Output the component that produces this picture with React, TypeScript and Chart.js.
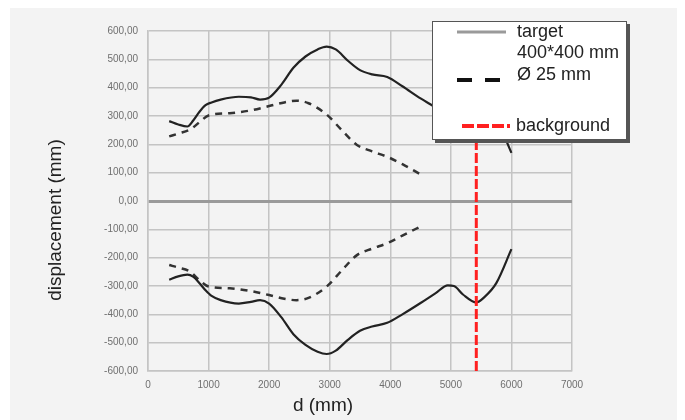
import React, { useEffect, useRef } from "react";
import { Chart, registerables } from "chart.js";

Chart.register(...registerables);

// ---- data ----
const targetX = [350, 500, 650, 750, 850, 950, 1050, 1200, 1500, 1700, 1850, 2000, 2200, 2400, 2600, 2800, 2950, 3100, 3300, 3500, 3700, 3950, 4200, 4500, 4750, 4950, 5050, 5200, 5420, 5550, 5750, 6000];
const targetUpper = [282, 270, 263, 285, 315, 338, 348, 358, 368, 366, 358, 365, 410, 470, 510, 535, 545, 535, 495, 462, 447, 438, 405, 362, 330, 300, 302, 330, 358, 340, 290, 170];
const targetLower = [-278, -266, -260, -268, -290, -315, -335, -350, -362, -356, -350, -362, -410, -470, -508, -532, -540, -528, -490, -458, -443, -430, -400, -360, -325, -298, -300, -330, -358, -340, -290, -170];

const rodX = [350, 500, 700, 850, 1000, 1350, 1700, 2000, 2250, 2450, 2650, 2950, 3200, 3450, 3700, 3950, 4200, 4500];
const rodUpper = [228, 238, 253, 278, 302, 310, 320, 335, 348, 354, 345, 305, 250, 198, 175, 156, 130, 94];
const rodLower = [-226, -235, -250, -280, -302, -308, -318, -332, -345, -350, -342, -302, -245, -191, -168, -149, -122, -90];

const backgroundX = [5420, 5420];
const backgroundY = [-600, 600];

const xTicks = [0, 1000, 2000, 3000, 4000, 5000, 6000, 7000];
const yTicks = [-600, -500, -400, -300, -200, -100, 0, 100, 200, 300, 400, 500, 600];

const legendLabels = ["target", "400*400 mm", "Ø 25 mm", "background"];
const xTitle = "d (mm)";
const yTitle = "displacement (mm)";

const pts = (xs: number[], ys: number[]) => xs.map((x, i) => ({ x, y: ys[i] }));

const overlayPlugin = {
  id: "overlay",
  afterDraw(chart: any) {
    const ctx = chart.ctx as CanvasRenderingContext2D;
    const a = chart.chartArea;
    ctx.save();
    // axis titles
    ctx.fillStyle = "#222";
    ctx.font = '19px "Liberation Sans", Arial, sans-serif';
    ctx.textAlign = "center";
    ctx.textBaseline = "middle";
    ctx.fillText(xTitle, a.left + 175, a.bottom + 35);
    ctx.save();
    ctx.translate(a.left - 92, a.top + 189);
    ctx.rotate(-Math.PI / 2);
    ctx.fillText(yTitle, 0, 0);
    ctx.restore();

    // legend box
    const bx = a.left + 284;
    const by = a.top - 10;
    const bw = 195;
    const bh = 119;
    ctx.fillStyle = "#555";
    ctx.fillRect(bx + 3, by + 3, bw, bh);
    ctx.fillStyle = "#fff";
    ctx.fillRect(bx, by, bw, bh);
    ctx.strokeStyle = "#555";
    ctx.lineWidth = 1;
    ctx.strokeRect(bx + 0.5, by + 0.5, bw - 1, bh - 1);

    // samples
    ctx.lineCap = "butt";
    ctx.strokeStyle = "#9a9a9a";
    ctx.lineWidth = 3;
    ctx.setLineDash([]);
    ctx.beginPath();
    ctx.moveTo(bx + 25, by + 11);
    ctx.lineTo(bx + 74, by + 11);
    ctx.stroke();

    ctx.strokeStyle = "#111";
    ctx.lineWidth = 4;
    ctx.setLineDash([15, 13]);
    ctx.beginPath();
    ctx.moveTo(bx + 25, by + 59);
    ctx.lineTo(bx + 74, by + 59);
    ctx.stroke();

    ctx.strokeStyle = "#ff2020";
    ctx.lineWidth = 4;
    ctx.setLineDash([12, 3]);
    ctx.beginPath();
    ctx.moveTo(bx + 30, by + 105);
    ctx.lineTo(bx + 78, by + 105);
    ctx.stroke();
    ctx.setLineDash([]);

    ctx.fillStyle = "#222";
    ctx.font = '18px "Liberation Sans", Arial, sans-serif';
    ctx.textAlign = "left";
    ctx.textBaseline = "middle";
    ctx.fillText(legendLabels[0], bx + 85, by + 11);
    ctx.fillText(legendLabels[1], bx + 85, by + 32);
    ctx.fillText(legendLabels[2], bx + 85, by + 54);
    ctx.fillText(legendLabels[3], bx + 84, by + 105);
    ctx.restore();
  },
};

export default function App() {
  const ref = useRef<HTMLCanvasElement | null>(null);

  useEffect(() => {
    if (!ref.current) return;
    const solid = { borderColor: "#222", borderWidth: 2.2, pointRadius: 0, cubicInterpolationMode: "monotone" as const, fill: false, order: 1 };
    const dashed = { borderColor: "#333", borderWidth: 2.5, borderDash: [7, 6], pointRadius: 0, cubicInterpolationMode: "monotone" as const, fill: false, order: 1 };
    const chart = new Chart(ref.current, {
      type: "line",
      data: {
        datasets: [
          { label: "background", data: pts(backgroundX, backgroundY), borderColor: "#ff2020", borderWidth: 3, borderDash: [10, 3], pointRadius: 0, order: 0 },
          { label: "target 400*400 mm", data: pts(targetX, targetUpper), ...solid },
          { label: "target 400*400 mm (lower)", data: pts(targetX, targetLower), ...solid },
          { label: "Ø 25 mm", data: pts(rodX, rodUpper), ...dashed },
          { label: "Ø 25 mm (lower)", data: pts(rodX, rodLower), ...dashed },
        ],
      },
      options: {
        animation: false,
        responsive: true,
        maintainAspectRatio: false,
        layout: { padding: { left: 68, top: 27, right: 106, bottom: 29 } },
        plugins: { legend: { display: false }, tooltip: { enabled: false } },
        scales: {
          x: {
            type: "linear",
            min: 0,
            max: 7000,
            afterBuildTicks: (s: any) => { s.ticks = xTicks.map((v) => ({ value: v })); },
            afterFit: (s: any) => { s.height = 20; },
            grid: { color: "#c4c4c4", lineWidth: 1.5, drawTicks: false },
            border: { color: "#c4c4c4", width: 1.5 },
            ticks: { color: "#6f6f6f", font: { size: 10, family: '"Liberation Sans", Arial, sans-serif' }, padding: 8, maxRotation: 0, callback: (v: any) => String(v) },
          },
          y: {
            type: "linear",
            min: -600,
            max: 600,
            afterBuildTicks: (s: any) => { s.ticks = yTicks.map((v) => ({ value: v })); },
            afterFit: (s: any) => { s.width = 70; },
            grid: {
              color: (c: any) => (c.tick && c.tick.value === 0 ? "#9a9a9a" : "#c4c4c4"),
              lineWidth: (c: any) => (c.tick && c.tick.value === 0 ? 3 : 1.5),
              drawTicks: false,
            },
            border: { color: "#c4c4c4", width: 1.5 },
            ticks: {
              color: "#6f6f6f",
              font: { size: 10, family: '"Liberation Sans", Arial, sans-serif' },
              padding: 10,
              callback: (v: any) => Number(v).toFixed(2).replace(".", ","),
            },
          },
        },
      },
      plugins: [overlayPlugin],
    });
    return () => chart.destroy();
  }, []);

  return (
    <div style={{ position: "relative", width: 668, height: 416, marginLeft: 2, marginTop: -4, background: "#f3f3f3" }}>
      <canvas ref={ref} />
    </div>
  );
}
